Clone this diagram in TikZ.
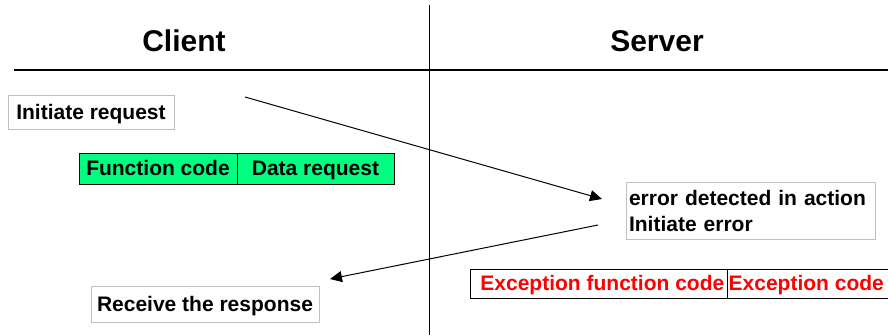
\documentclass[tikz,border=0pt]{standalone}
\usepackage{fontspec}
\setmainfont{Liberation Sans}
\usetikzlibrary{arrows.meta}
\definecolor{tblgreen}{RGB}{0,255,128}
\definecolor{boxgray}{RGB}{192,192,192}
\tikzset{
  txt/.style={font=\fontsize{21}{26}\selectfont\bfseries, text height=15pt, text depth=1pt},
  lbl/.style={txt, inner sep=0pt},
  graybox/.style={txt, draw=boxgray, line width=1pt, rectangle, inner sep=0pt},
  cell/.style={txt, draw=black, line width=1pt, rectangle, inner sep=0pt},
  head/.style={font=\fontsize{30}{34}\selectfont\bfseries, inner sep=0pt},
  msg/.style={line width=1pt, -{Triangle[length=12pt,width=11pt]}}
}
\begin{document}
\begin{tikzpicture}[x=1pt,y=-1pt]
\useasboundingbox (0,0) rectangle (888,335);
% swimlane lines
\coordinate (vtop) at (429,5);
\coordinate (vbot) at (429,335);
\coordinate (hl) at (14,70);
\coordinate (hr) at (890,70);
\draw[line width=1pt] (vtop) -- (vbot);
\draw[line width=2pt] (hl) -- (hr);
% headers
\node[head] (client) at (184,41) {Client};
\node[head] (server) at (657,41) {Server};
% client boxes
\node[graybox, minimum width=166, minimum height=34] (init) at (91,112) {Initiate request};
\node[cell, fill=tblgreen, minimum width=158, minimum height=31] (fc) at (158,168.5) {Function code};
\node[cell, fill=tblgreen, minimum width=157, minimum height=31] (dr) at (315.5,168.5) {Data request};
\node[graybox, minimum width=228, minimum height=36] (recv) at (205,304) {Receive the response};
% server boxes
\node[graybox, minimum width=249, minimum height=57, text width=243, align=left, text height=, text depth=] (err) at (750.5,211) {error detected in action\\Initiate error};
\node[cell, minimum width=257, minimum height=29] (efc) at (598.5,283.5) {};
\node[cell, minimum width=165, minimum height=29] (ec) at (809.5,283.5) {};
\node[lbl, text=red, anchor=east] (efct) at ([xshift=-3pt]efc.east) {Exception function code};
\node[lbl, text=red, anchor=west] (ect) at ([xshift=2pt]ec.west) {Exception code};
% messages
\coordinate (a1s) at (245,97);
\coordinate (a1e) at (602,199);
\coordinate (a2s) at (598,225);
\coordinate (a2e) at (330,279);
\draw[msg] (a1s) -- (a1e);
\draw[msg] (a2s) -- (a2e);
\end{tikzpicture}
\end{document}
